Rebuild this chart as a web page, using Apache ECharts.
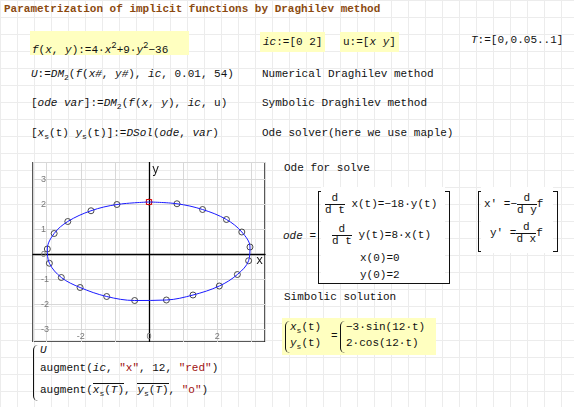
<!DOCTYPE html>
<html>
<head>
<meta charset="utf-8">
<script src="https://cdn.jsdelivr.net/npm/echarts@6/dist/echarts.min.js"></script>
<style>
  body { margin: 0; width: 574px; height: 407px; position: relative; overflow: hidden;
    background-color: #fff;
    background-image: linear-gradient(#ececec 1px, transparent 1px), linear-gradient(90deg, #ececec 1px, transparent 1px);
    background-size: 17px 17px;
    font-family: "Liberation Mono", "DejaVu Sans Mono", monospace; font-size: 11px; color: #111; }
  .t { position: absolute; white-space: nowrap; }
  .hl { background: #ffffc0; }
  i { font-family: "Liberation Mono", monospace; font-size: 11px; }
  sub { font-size: 8px; }
  sup { font-size: 9px; }
  .fr { display: inline-block; text-align: center; vertical-align: middle; line-height: 11px; }
  .fr span { display: block; }
  .fr span:first-child { border-bottom: 1px solid #111; }
  .br { position: absolute; border: 1px solid #111; }
  .brace { position: absolute; border-left: 1.3px solid #111; border-radius: 6px 0 0 6px; }
  #chart { position: absolute; left: 30px; top: 162px; width: 238px; height: 180px; }
  .str { color: #a01010; }
</style>
</head>
<body>
<div class="t" style="left:4px;top:3px;color:#8b4a10;font-weight:bold;font-size:11px">Parametrization of implicit functions by Draghilev method</div>

<div class="t hl" style="left:30px;top:31px;width:157px;height:24px;line-height:30px;padding-left:2px"><i>f</i>(<i>x</i>, <i>y</i>):=4·<i>x</i><sup>2</sup>+9·<i>y</i><sup>2</sup>−36</div>
<div class="t hl" style="left:260px;top:32px;height:20px;line-height:20px;padding:0 3px"><i>ic</i>:=[0 2]</div>
<div class="t hl" style="left:340px;top:32px;height:20px;line-height:20px;padding:0 3px">u:=[<i>x</i> <i>y</i>]</div>
<div class="t" style="left:471px;top:34px"><i>T</i>:=[0,0.05..1]</div>

<div class="t" style="left:31px;top:68px"><i>U</i>:=<i>DM</i><sub>2</sub>(<i>f</i>(<i>x#</i>, <i>y#</i>), <i>ic</i>, 0.01, 54)</div>
<div class="t" style="left:262px;top:68px">Numerical Draghilev method</div>
<div class="t" style="left:31px;top:97px">[<i>ode var</i>]:=<i>DM</i><sub>2</sub>(<i>f</i>(<i>x</i>, <i>y</i>), <i>ic</i>, u)</div>
<div class="t" style="left:262px;top:97px">Symbolic Draghilev method</div>
<div class="t" style="left:31px;top:127px">[<i>x</i><sub>s</sub>(t) <i>y</i><sub>s</sub>(t)]:=<i>DSol</i>(<i>ode</i>, <i>var</i>)</div>
<div class="t" style="left:262px;top:127px">Ode solver(here we use maple)</div>

<div class="t" style="left:284px;top:162px">Ode for solve</div>
<div class="t" style="left:283px;top:230px"><i>ode</i> =</div>
<div class="br" style="left:318px;top:191px;width:130px;height:91px"></div>
<div class="t" style="left:321px;top:187px;width:124px;height:96px;background:#fff"></div>
<div class="t" style="left:325px;top:193px"><span class="fr"><span>d</span><span>d t</span></span> x(t)=−18·y(t)</div>
<div class="t" style="left:332px;top:224px"><span class="fr"><span>d</span><span>d t</span></span> y(t)=8·x(t)</div>
<div class="t" style="left:360px;top:252px">x(0)=0</div>
<div class="t" style="left:360px;top:269px">y(0)=2</div>
<div class="br" style="left:478px;top:191px;width:78px;height:59px"></div>
<div class="t" style="left:481px;top:187px;width:72px;height:66px;background:#fff"></div>
<div class="t" style="left:484px;top:193px">x' =−<span class="fr"><span>d</span><span>d y</span></span>f</div>
<div class="t" style="left:490px;top:222px">y' =<span class="fr"><span>d</span><span>d x</span></span>f</div>

<div class="t" style="left:284px;top:291px">Simbolic solution</div>
<div class="t hl" style="left:282px;top:318px;width:154px;height:37px"></div>
<div class="brace" style="left:285px;top:321px;width:4px;height:32px"></div>
<div class="t" style="left:290px;top:321px"><i>x</i><sub>s</sub>(t)</div>
<div class="t" style="left:290px;top:337px"><i>y</i><sub>s</sub>(t)</div>
<div class="t" style="left:331px;top:330px">=</div>
<div class="brace" style="left:340px;top:321px;width:4px;height:32px"></div>
<div class="t" style="left:346px;top:321px">−3·sin(12·t)</div>
<div class="t" style="left:346px;top:337px">2·cos(12·t)</div>

<div class="brace" style="left:33px;top:345px;width:4px;height:56px"></div>
<div class="t" style="left:40px;top:344px"><i>U</i></div>
<div class="t" style="left:40px;top:362px">augment(<i>ic</i>, <span class="str">"x"</span>, 12, <span class="str">"red"</span>)</div>
<div class="t" style="left:40px;top:384px">augment(<span style="border-top:1px solid #111"><i>x</i><sub>s</sub>(<i>T</i>)</span>, <span style="border-top:1px solid #111"><i>y</i><sub>s</sub>(<i>T</i>)</span>, <span class="str">"o"</span>)</div>

<div id="chart"></div>
<div class="t" style="left:256px;top:254px;font-size:12px">x</div>
<div class="t" style="left:152px;top:163px;font-size:12px">y</div>
<script>
// точки численного решения U (совпадают с xs(T), ys(T))
const xs = [0, 0.82, 1.57, 2.27, 2.72, 2.96, 2.92, 2.59, 2.06, 1.29, 0.51, -0.42, -1.24, -2.02, -2.57, -2.92, -2.98, -2.78, -2.38, -1.70, -0.94, 0];
const ys = [2.1, 2.03, 1.8, 1.4, 0.9, 0.3, -0.25, -0.8, -1.26, -1.62, -1.82, -1.84, -1.68, -1.32, -0.92, -0.35, 0.22, 0.84, 1.32, 1.75, 2.0, 2.1];
const icPoint = [0, 2.1];

const pts = xs.map((x, i) => [x, ys[i]]);
const chart = echarts.init(document.getElementById('chart'));

const axisCommon = {
  type: 'value',
  axisLine: { onZero: true, lineStyle: { color: '#000', width: 1.3 } },
  axisTick: { show: false },
  splitLine: { show: true, lineStyle: { color: '#d8d8d8' } },
};

chart.setOption({
  animation: false,
  grid: { left: 0, right: 0, top: 0, bottom: 0, show: true, borderColor: '#222', borderWidth: 1.5 },
  xAxis: Object.assign({}, axisCommon, {
    min: -3.4, max: 3.4,
    axisLabel: { color: '#777', fontSize: 9, margin: -10,
      formatter: v => (v % 2 === 0 ? String(v) : '') },
  }),
  yAxis: Object.assign({}, axisCommon, {
    min: -3.5, max: 3.7,
    axisLabel: { inside: true, color: '#777', fontSize: 9,
      formatter: v => (Number.isInteger(v) ? String(v) : '') },
  }),
  series: [
    { type: 'line', data: pts, smooth: 0.35, symbol: 'none', lineStyle: { color: '#1a1aff', width: 1 } },
    { type: 'scatter', data: pts.slice(0, -1), symbol: 'circle', symbolSize: 6,
      itemStyle: { color: 'transparent', borderColor: '#222', borderWidth: 1 } },
    { type: 'scatter', data: [icPoint], symbol: 'rect', symbolSize: 5,
      itemStyle: { color: 'transparent', borderColor: '#e00', borderWidth: 1.2 } },
  ],
});
</script>
</body>
</html>
